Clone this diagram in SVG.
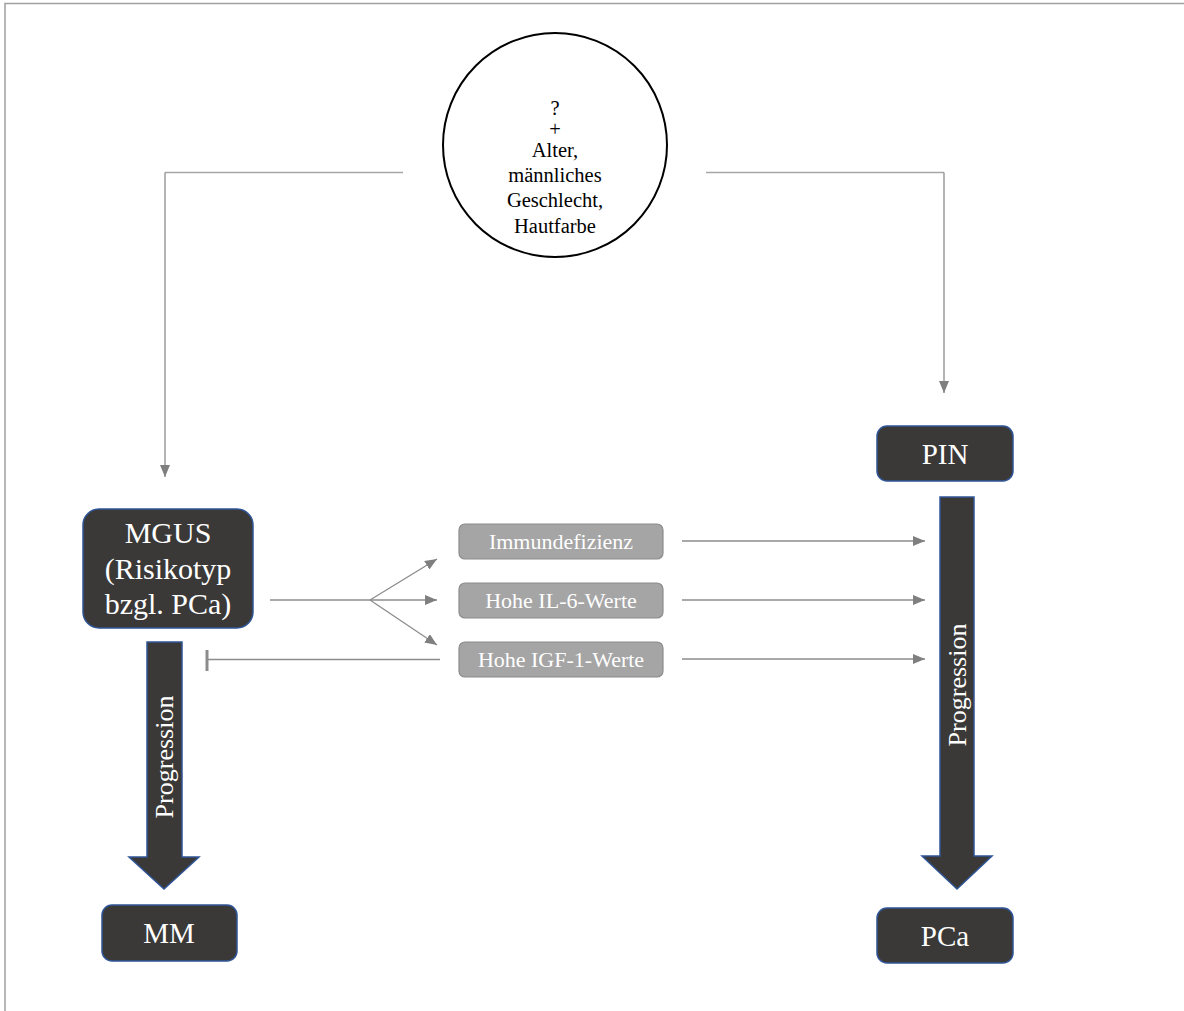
<svg xmlns="http://www.w3.org/2000/svg" width="1184" height="1011" viewBox="0 0 1184 1011">
  <defs>
    <marker id="tri" viewBox="0 0 12 10" refX="12" refY="5" markerWidth="12" markerHeight="10" markerUnits="userSpaceOnUse" orient="auto">
      <path d="M0,0 L12,5 L0,10 Z" fill="#7f7f7f"/>
    </marker>
    <style>
      text { font-family: "Liberation Serif", "Times New Roman", serif; text-anchor: middle; }
      .dark { fill: #3a3938; stroke: #2f5597; stroke-width: 1.5; }
      .dark-label { fill: #ffffff; font-size: 29px; }
      .mgus-label { fill: #ffffff; font-size: 30px; }
      .factor { fill: #a5a5a5; stroke: #8c8c8c; stroke-width: 1.2; }
      .factor-label { fill: #ffffff; font-size: 22px; }
      .prog { fill: #ffffff; font-size: 26px; }
      .link { fill: none; stroke: #8c8c8c; stroke-width: 1.3; }
      .feed { fill: none; stroke: #a6a6a6; stroke-width: 1.5; }
    </style>
  </defs>

  <rect width="1184" height="1011" fill="#ffffff"/>
  <!-- page frame -->
  <path d="M5,1011 V3.5 H1184" fill="none" stroke="#a0a0a0" stroke-width="1.5"/>

  <!-- risk factors -->
  <g id="risk-factors">
    <circle cx="555" cy="145" r="112" fill="#ffffff" stroke="#000000" stroke-width="2"/>
    <g fill="#000000" font-size="20.5px">
      <text x="555" y="115">?</text>
      <text x="555" y="136">+</text>
      <text x="555" y="157">Alter,</text>
      <text x="555" y="182">männliches</text>
      <text x="555" y="207">Geschlecht,</text>
      <text x="555" y="233">Hautfarbe</text>
    </g>
  </g>

  <g id="mgus">
    <rect class="dark" x="83" y="509" width="170" height="119" rx="16"/>
    <text class="mgus-label" x="168" y="543">MGUS</text>
    <text class="mgus-label" x="168" y="579">(Risikotyp</text>
    <text class="mgus-label" x="168" y="614">bzgl. PCa)</text>
  </g>

  <g id="pin">
    <rect class="dark" x="877" y="426" width="136" height="55" rx="10"/>
    <text class="dark-label" x="945" y="464">PIN</text>
  </g>

  <g id="mm">
    <rect class="dark" x="102" y="905" width="135" height="56" rx="10"/>
    <text class="dark-label" x="169" y="943">MM</text>
  </g>

  <g id="pca">
    <rect class="dark" x="877" y="908" width="136" height="55" rx="10"/>
    <text class="dark-label" x="945" y="946">PCa</text>
  </g>

  <g id="immundefizienz">
    <rect class="factor" x="459" y="524" width="204" height="35" rx="6"/>
    <text class="factor-label" x="561" y="549">Immundefizienz</text>
  </g>

  <g id="il6">
    <rect class="factor" x="459" y="583" width="204" height="35" rx="6"/>
    <text class="factor-label" x="561" y="608">Hohe IL-6-Werte</text>
  </g>

  <g id="igf1">
    <rect class="factor" x="459" y="642" width="204" height="35" rx="6"/>
    <text class="factor-label" x="561" y="667">Hohe IGF-1-Werte</text>
  </g>

  <!-- progression arrows -->
  <g id="progression-mgus-mm">
    <polygon class="dark" points="147,642 182,642 182,857 199,857 164,889 129,857 147,857"/>
    <text class="prog" transform="translate(173,757) rotate(-90)">Progression</text>
  </g>

  <g id="progression-pin-pca">
    <polygon class="dark" points="940,497 974,497 974,856 992,856 957,889 922,856 940,856"/>
    <text class="prog" transform="translate(966,685) rotate(-90)">Progression</text>
  </g>

  <g id="connectors">
    <!-- from risk factors to MGUS and PIN -->
    <path class="feed" d="M403,172.5 H165"/>
    <path class="link" d="M165,172.5 V477" marker-end="url(#tri)"/>
    <path class="feed" d="M706,172.5 H944"/>
    <path class="link" d="M944,172.5 V393" marker-end="url(#tri)"/>

    <!-- MGUS fans out to the three factors -->
    <path class="link" d="M270,600 H370"/>
    <path class="link" d="M370,600 L437,559" marker-end="url(#tri)"/>
    <path class="link" d="M370,600 H437" marker-end="url(#tri)"/>
    <path class="link" d="M370,600 L437,645" marker-end="url(#tri)"/>

    <!-- IGF-1 inhibits MGUS progression -->
    <path class="link" d="M440,659.5 H207"/>
    <path d="M207,650 V671" stroke="#8c8c8c" stroke-width="3"/>

    <!-- factors towards PIN progression -->
    <path class="link" d="M682,541 H925" marker-end="url(#tri)"/>
    <path class="link" d="M682,600 H925" marker-end="url(#tri)"/>
    <path class="link" d="M682,659 H925" marker-end="url(#tri)"/>
  </g>
</svg>
